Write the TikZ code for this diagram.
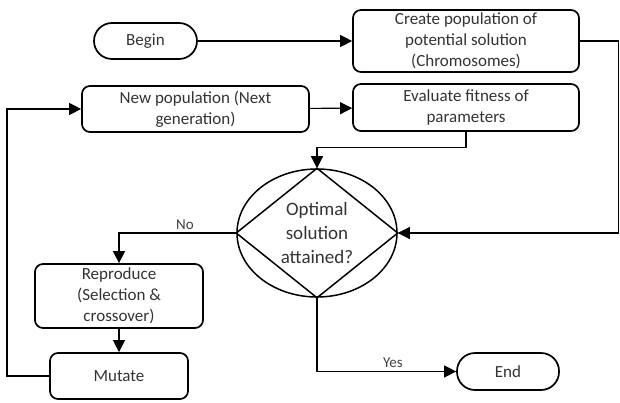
\documentclass[tikz,border=0pt]{standalone}
\usepackage{fontspec}
\setmainfont{Carlito}
\usetikzlibrary{arrows.meta,shapes.geometric}
\begin{document}
\begin{tikzpicture}[x=1pt,y=-1pt,
	box/.style={draw,line width=1.7pt,rounded corners=8pt,align=center,inner sep=0pt,text=black!80,font=\fontsize{17}{21}\selectfont},
	term/.style={box,rounded corners=18pt},
	line/.style={line width=1.1pt},
	arr/.style={line,-{Triangle[length=12pt,width=12pt]}},
	lbl/.style={text=black!75,font=\fontsize{15}{16}\selectfont}]
	\useasboundingbox (0,0) rectangle (620,403);
	\node[term,minimum width=103pt,minimum height=36pt] (begin) at (145.5,41) {Begin};
	\node[box,minimum width=226pt,minimum height=62pt] (create) at (466,41) {Create population of\\potential solution\\(Chromosomes)};
	\node[box,minimum width=227pt,minimum height=46pt] (newpop) at (195.5,109) {New population (Next\\generation)};
	\node[box,minimum width=226pt,minimum height=47pt] (eval) at (466,107.5) {Evaluate fitness of\\parameters};
	\node[draw,ellipse,line width=1.5pt,minimum width=160pt,minimum height=128pt,inner sep=0pt,align=center,text=black!80,font=\fontsize{19}{24}\selectfont] (opt) at (317,233) {Optimal\\solution\\attained?};
	\node[box,minimum width=168pt,minimum height=64pt] (repro) at (119,296) {Reproduce\\(Selection \&\\crossover)};
	\node[box,minimum width=138pt,minimum height=46pt] (mutate) at (119,376) {Mutate};
	\node[term,minimum width=102pt,minimum height=37pt] (end) at (508,371.5) {End};
	\draw[line width=1.5pt] (opt.north) -- (opt.east) -- (opt.south) -- (opt.west) -- cycle;
	\coordinate (rt) at (618.5,41);
	\coordinate (lt) at (7,376);
	\path (begin) edge[arr] (create);
	\path (newpop) edge[arr] (eval);
	\draw[arr] (create.east) -- (rt) |- (opt.east);
	\draw[arr] (eval.south) -- ++(0,16) -| (opt.north);
	\draw[arr] (opt.west) -| (repro.north);
	\path (repro) edge[arr] (mutate);
	\draw[arr] (mutate.west) -- (lt) |- (newpop.west);
	\draw[arr] (opt.south) |- (end.west);
	\node[lbl] (no) at (185,225) {No};
	\node[lbl] (yes) at (393,363) {Yes};
\end{tikzpicture}
\end{document}
